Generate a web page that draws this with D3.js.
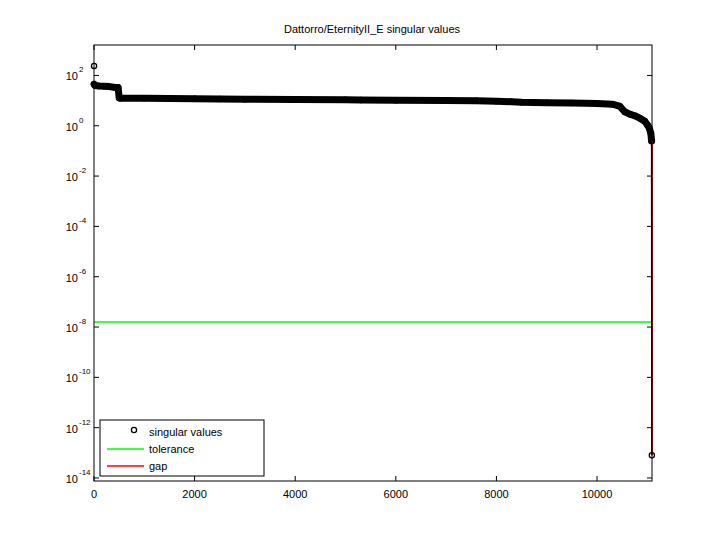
<!DOCTYPE html>
<html><head><meta charset="utf-8">
<script src="https://cdn.jsdelivr.net/npm/d3@7"></script>
<style>body{margin:0;background:#fff}text{font-family:"Liberation Sans",Arial,sans-serif;fill:#000}</style>
</head><body><svg id="c" width="720" height="540"></svg>
<script>
// singular values (index, value)
const svIndex = [1, 2, 20, 100, 200, 300, 400, 480, 500, 520, 1000, 1500, 2000, 2500, 3000, 4000, 5000, 5300, 6000, 7000, 7600, 8000, 8300, 8500, 9000, 9500, 10000, 10300, 10450, 10550, 10650, 10750, 10850, 10950, 11000, 11040, 11070, 11085]
const svValue = [240, 45, 40, 38, 37, 36, 34, 33, 13, 12.5, 12.3, 12.1, 11.8, 11.5, 11.3, 11.1, 10.9, 10.6, 10.4, 10.1, 9.8, 9.5, 9.0, 8.6, 8.3, 8.0, 7.6, 7.2, 6.0, 3.6, 2.9, 2.5, 2.0, 1.5, 1.1, 0.8, 0.5, 0.25]
const lastIndex = 11090, lastValue = 8e-14
const tolerance = 1.6e-8
const gapRange = [0.25, 8e-14]
const xTicks = [0, 2000, 4000, 6000, 8000, 10000]
const yExps = [2, 0, -2, -4, -6, -8, -10, -12, -14]

const svg = d3.select('#c')
const L = 94, R = 652, T = 45, B = 481
const x = d3.scaleLinear().domain([0, 11093]).range([L, R])
const y = d3.scaleLog().domain([Math.pow(10, -14.12), Math.pow(10, 3.21)]).range([B, T])

svg.append('text').attr('x', 372).attr('y', 33).attr('text-anchor', 'middle').attr('font-size', 11).text('Dattorro/EternityII_E singular values')

// tolerance
svg.append('line').attr('x1', L).attr('x2', R).attr('y1', y(tolerance)).attr('y2', y(tolerance)).attr('stroke', '#00ff00').attr('stroke-width', 1.5)

// band of dense markers
const band = svIndex.slice(1).map((d, i) => [x(d), y(svValue[i + 1])])
const segs = [band.slice(0, 8), band.slice(8)]
segs.forEach(s => svg.append('path').attr('d', d3.line()(s)).attr('fill', 'none').attr('stroke', '#000').attr('stroke-width', 7).attr('stroke-linecap', 'round').attr('stroke-linejoin', 'round'))
svg.append('line').attr('x1', x(11085)).attr('x2', x(lastIndex)).attr('y1', y(0.25)).attr('y2', y(lastValue)).attr('stroke', '#000').attr('stroke-width', 1.5)
// gap
svg.append('line').attr('x1', x(lastIndex) + 0.5).attr('x2', x(lastIndex) + 0.5).attr('y1', y(gapRange[0])).attr('y2', y(gapRange[1])).attr('stroke', '#ff0000').attr('stroke-width', 1)
svIndex.concat([lastIndex]).forEach((d, i) => {
  const v = i < svValue.length ? svValue[i] : lastValue
  svg.append('circle').attr('cx', x(d)).attr('cy', y(v)).attr('r', 2.6).attr('fill', 'none').attr('stroke', '#000').attr('stroke-width', 1.3)
})

// box and ticks
svg.append('rect').attr('x', L).attr('y', T).attr('width', R - L).attr('height', B - T).attr('fill', 'none').attr('stroke', '#000')
xTicks.forEach(t => {
  svg.append('line').attr('x1', x(t)).attr('x2', x(t)).attr('y1', B).attr('y2', B - 5).attr('stroke', '#000')
  svg.append('line').attr('x1', x(t)).attr('x2', x(t)).attr('y1', T).attr('y2', T + 5).attr('stroke', '#000')
  svg.append('text').attr('x', x(t)).attr('y', B + 17).attr('text-anchor', 'middle').attr('font-size', 11).text(t)
})
yExps.forEach(e => {
  const yy = y(Math.pow(10, e))
  svg.append('line').attr('x1', L).attr('x2', L + 5).attr('y1', yy).attr('y2', yy).attr('stroke', '#000')
  svg.append('line').attr('x1', R).attr('x2', R - 5).attr('y1', yy).attr('y2', yy).attr('stroke', '#000')
  svg.append('text').attr('x', 78).attr('y', yy + 5).attr('text-anchor', 'end').attr('font-size', 11).text('10')
  svg.append('text').attr('x', 79).attr('y', yy - 3).attr('font-size', 8).text(e)
})

// legend
const lg = svg.append('g').attr('transform', 'translate(100,420)')
lg.append('rect').attr('width', 164).attr('height', 56).attr('fill', '#fff').attr('stroke', '#000')
lg.append('circle').attr('cx', 34).attr('cy', 10).attr('r', 2.6).attr('fill', 'none').attr('stroke', '#000').attr('stroke-width', 1.3)
lg.append('line').attr('x1', 7).attr('x2', 44).attr('y1', 29).attr('y2', 29).attr('stroke', '#00ff00').attr('stroke-width', 1.5)
lg.append('line').attr('x1', 7).attr('x2', 44).attr('y1', 46).attr('y2', 46).attr('stroke', '#ff0000').attr('stroke-width', 1.5)
const names = ['singular values', 'tolerance', 'gap']
names.forEach((n, i) => lg.append('text').attr('x', 49).attr('y', 16 + i * 17).attr('font-size', 11).text(n))
</script></body></html>
